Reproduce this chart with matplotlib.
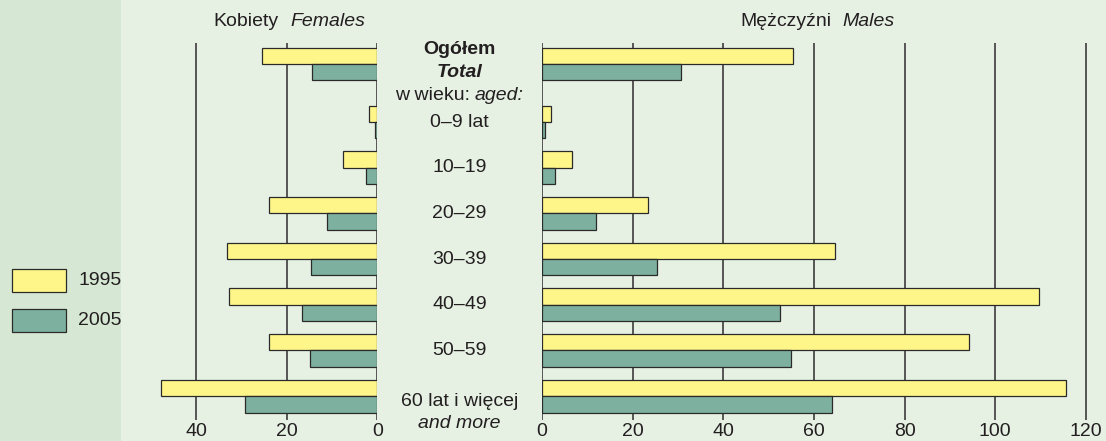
import numpy as np
import matplotlib.pyplot as plt
from matplotlib.patches import Rectangle
from matplotlib.transforms import blended_transform_factory

plt.rcParams['font.family'] = ['Liberation Sans', 'DejaVu Sans']

# data (first entry = total, then age groups)
age_labels = ['0–9 lat', '10–19', '20–29', '30–39', '40–49', '50–59', '60 lat i więcej']
years = ['1995', '2005']
females_1995 = [25.4, 1.8, 7.6, 23.8, 33.1, 32.8, 24.0, 47.8]
females_2005 = [14.3, 0.4, 2.6, 11.0, 14.6, 16.7, 14.9, 29.1]
males_1995 = [55.4, 1.9, 6.7, 23.3, 64.7, 109.7, 94.3, 115.5]
males_2005 = [30.6, 0.6, 2.8, 11.9, 25.3, 52.4, 55.0, 64.0]
female_ticks = [0, 20, 40]
male_ticks = [0, 20, 40, 60, 80, 100, 120]

BG = '#e6f1e4'
STRIP = '#d6e8d3'
YELLOW = '#fff68a'
GREEN = '#7db09e'
EDGE = '#2a2a2a'
TXT = '#231f20'
FS = 14

W, H = 1106, 441
fig = plt.figure(figsize=(W / 100, H / 100), dpi=100, facecolor=BG)

# darker strip on the left
fig.add_artist(Rectangle((0, 0), 121 / W, 1, transform=fig.transFigure,
                         facecolor=STRIP, edgecolor='none', zorder=0))

# group positions: total separated from age groups
pos = np.r_[-1.27, np.arange(len(age_labels))]
bh = 0.357

def px(x):
    return x / W

def py(y):
    return 1 - y / H

ax_top, ax_bot = 42.5, 419.5
ax_f = fig.add_axes([px(155.2), py(ax_bot), px(377.3 - 155.2), (ax_bot - ax_top) / H])
ax_m = fig.add_axes([px(542), py(ax_bot), px(1090.5 - 542), (ax_bot - ax_top) / H])

for ax, v95, v05, ticks, lim in [(ax_f, females_1995, females_2005, female_ticks, 49),
                                 (ax_m, males_1995, males_2005, male_ticks, 121)]:
    ax.set_facecolor('none')
    ax.barh(pos - bh / 2, v95, height=bh, color=YELLOW, edgecolor=EDGE, linewidth=0.9, zorder=3)
    ax.barh(pos + bh / 2, v05, height=bh, color=GREEN, edgecolor=EDGE, linewidth=0.9, zorder=3)
    for t in ticks:
        ax.axvline(t, color='#4a4a4a', linewidth=1.3, zorder=1)
    ax.set_xticks(ticks)
    ax.set_xlim(0, lim)
    ax.set_ylim(6.51, -1.74)
    ax.set_yticks([])
    ax.tick_params(axis='x', length=0, pad=2.5, labelsize=FS, labelcolor=TXT)
    for s in ax.spines.values():
        s.set_visible(False)

ax_f.invert_xaxis()

# center labels
tr = blended_transform_factory(fig.transFigure, ax_m.transData)
cx = px(459.5)
fig.text(cx, pos[0] - 0.32, 'Ogółem', transform=tr, ha='center', va='center',
         fontsize=FS, fontweight='bold', color=TXT)
fig.text(cx, pos[0] + 0.18, 'Total', transform=tr, ha='center', va='center',
         fontsize=FS, fontweight='bold', fontstyle='italic', color=TXT)
fig.text(px(470), pos[0] + 0.70, 'w wieku:', transform=tr, ha='right', va='center',
         fontsize=FS, color=TXT)
fig.text(px(475), pos[0] + 0.70, 'aged:', transform=tr, ha='left', va='center',
         fontsize=FS, fontstyle='italic', color=TXT)
for i, lab in enumerate(age_labels[:-1]):
    fig.text(cx, pos[i + 1], lab, transform=tr, ha='center', va='center',
             fontsize=FS, color=TXT)
fig.text(cx, pos[-1] + 0.12, age_labels[-1], transform=tr, ha='center', va='center',
         fontsize=FS, color=TXT)
fig.text(cx, pos[-1] + 0.59, 'and more', transform=tr, ha='center', va='center',
         fontsize=FS, fontstyle='italic', color=TXT)

# panel titles
fig.text(px(278.5), py(22), 'Kobiety', ha='right', va='center', fontsize=FS, color=TXT)
fig.text(px(290), py(22), 'Females', ha='left', va='center', fontsize=FS,
         fontstyle='italic', color=TXT)
fig.text(px(831), py(22), 'Mężczyźni', ha='right', va='center', fontsize=FS, color=TXT)
fig.text(px(842), py(22), 'Males', ha='left', va='center', fontsize=FS,
         fontstyle='italic', color=TXT)

# legend
for (yc, col, lab) in [(280.5, YELLOW, years[0]), (320.5, GREEN, years[1])]:
    fig.add_artist(Rectangle((px(12), py(yc + 11.5)), px(54), 23 / H,
                             transform=fig.transFigure, facecolor=col,
                             edgecolor=EDGE, linewidth=0.9))
    fig.text(px(78), py(yc), lab, ha='left', va='center', fontsize=FS, color=TXT)

fig.savefig('out.png', dpi=100, facecolor=BG)
